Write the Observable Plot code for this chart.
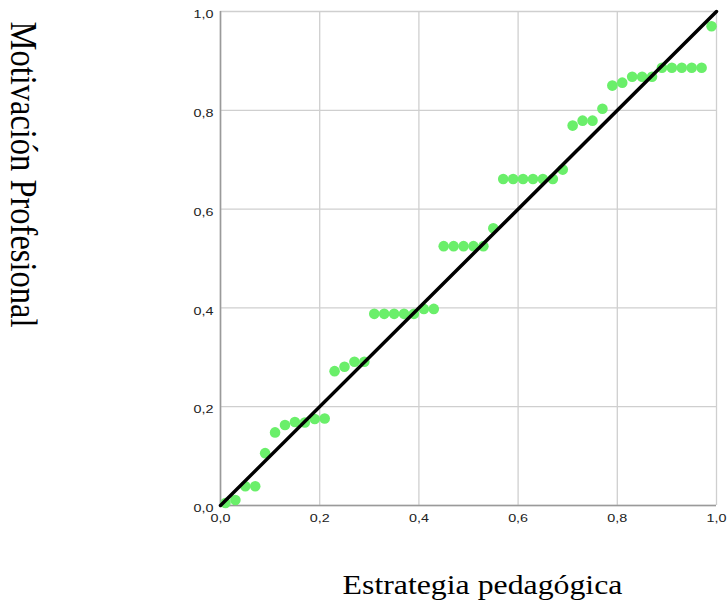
<!DOCTYPE html>
<html><head><meta charset="utf-8">
<script src="https://cdn.jsdelivr.net/npm/d3@7"></script>
<script src="https://cdn.jsdelivr.net/npm/@observablehq/plot@0.6"></script>
<style>body{margin:0;background:#fff} #chart{width:727px;height:609px}</style>
</head><body><div id="chart"></div>
<script>
// Observed cumulative probability (Estrategia pedagógica)
const observedProb = [0.01,0.03,0.05,0.07,0.09,0.11,0.13,0.15,0.17,0.19,
                      0.21,0.23,0.25,0.27,0.29,0.31,0.33,0.35,0.37,0.39,
                      0.41,0.43,0.45,0.47,0.49,0.51,0.53,0.55,0.57,0.59,
                      0.61,0.63,0.65,0.67,0.69,0.71,0.73,0.75,0.77,0.79,
                      0.81,0.83,0.85,0.87,0.89,0.91,0.93,0.95,0.97,0.99];
// Expected cumulative probability (Motivación Profesional)
const expectedProb = [0.005,0.011,0.039,0.039,0.106,0.148,0.163,0.169,0.168,0.175,
                      0.176,0.272,0.281,0.291,0.291,0.388,0.388,0.388,0.388,0.388,
                      0.398,0.398,0.525,0.525,0.525,0.525,0.525,0.561,0.661,0.661,
                      0.661,0.661,0.661,0.661,0.680,0.769,0.779,0.779,0.803,0.850,
                      0.856,0.868,0.868,0.868,0.886,0.886,0.886,0.886,0.886,0.970];
const tickValues = [0, 0.2, 0.4, 0.6, 0.8, 1.0];
const tickLabels = ["0,0", "0,2", "0,4", "0,6", "0,8", "1,0"];
const diagonal = [0, 1];
const xTitle = "Estrategia pedagógica";
const yTitle = "Motivación Profesional";

const points = observedProb.map((x, i) => ({x, y: expectedProb[i]}));
const fmt = d => tickLabels[tickValues.findIndex(t => Math.abs(t - d) < 1e-9)];

const chart = Plot.plot({
  width: 727, height: 609,
  marginLeft: 220, marginRight: 11, marginTop: 11, marginBottom: 104,
  style: {fontFamily: "'Liberation Sans', Arial, sans-serif", fontSize: "11.5px", color: "#222", background: "#fff"},
  x: {domain: [0, 1], ticks: tickValues, tickFormat: fmt, tickSize: 0, tickPadding: 8, label: null},
  y: {domain: [0, 1], ticks: tickValues, tickFormat: fmt, tickSize: 0, tickPadding: 7, label: null},
  marks: [
    Plot.ruleX(tickValues, {stroke: "#cfcfcf", strokeWidth: 1.3}),
    Plot.ruleY(tickValues, {stroke: "#cfcfcf", strokeWidth: 1.3}),
    Plot.ruleX([0], {stroke: "#9a9a9a", strokeWidth: 1.6}),
    Plot.ruleY([0], {stroke: "#9a9a9a", strokeWidth: 1.6}),
    Plot.dot(points, {x: "x", y: "y", r: 5.3, fill: "#6aef6a", stroke: "none"}),
    Plot.line(diagonal, {x: d => d, y: d => d, stroke: "#000", strokeWidth: 3.5})
  ]
});
document.getElementById("chart").append(chart);

const svg = d3.select(chart);
// horizontal stretch of tick labels as in the reference
svg.selectAll('g[aria-label$="tick label"] text').each(function() {
  const el = d3.select(this);
  const t = el.attr("transform");
  if (t) {
    el.attr("transform", t + " scale(1.25,1)");
  } else {
    const x = +el.attr("x") || 0, y = +el.attr("y") || 0;
    el.attr("x", null).attr("y", null).attr("transform", `translate(${x},${y}) scale(1.25,1)`);
  }
});
svg.selectAll('g[aria-label="y-axis tick label"] text').attr("dy", "0.26em");

svg.append("text")
  .attr("transform", "translate(482.5,594) scale(1.2,1)")
  .attr("text-anchor", "middle")
  .style("font-family", "'Liberation Serif', 'Times New Roman', serif")
  .style("font-size", "26.5px")
  .attr("fill", "#000")
  .text(xTitle);

svg.append("text")
  .attr("transform", "translate(11,174.5) scale(1.15,1) rotate(90)")
  .attr("text-anchor", "middle")
  .style("font-family", "'Liberation Serif', 'Times New Roman', serif")
  .style("font-size", "32.5px")
  .attr("fill", "#000")
  .text(yTitle);
</script>
</body></html>
